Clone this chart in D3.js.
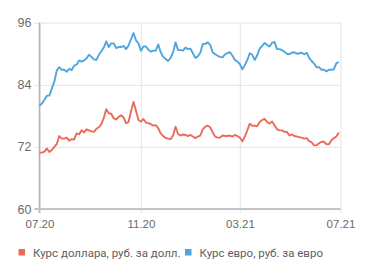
<!DOCTYPE html>
<html>
<head>
<meta charset="utf-8">
<script src="https://cdn.jsdelivr.net/npm/d3@7"></script>
<style>
  body { margin: 0; background: #fff; }
  svg { display: block; font-family: Roboto, "Open Sans", sans-serif; }
</style>
</head>
<body>
<svg width="371" height="275"></svg>
<script>
// readings every 3 days from 01.07.2020
var startDate = new Date(2020, 6, 1);
var stepDays = 3;

var usd = [70.9, 70.9, 71.1, 71.7, 71.0, 71.4, 72.0, 72.6, 74.1, 73.6,
           73.6, 73.8, 73.2, 73.5, 73.4, 74.6, 74.4, 75.2, 74.8, 75.4,
           75.2, 75.0, 74.9, 75.5, 75.8, 76.4, 77.6, 79.3, 78.5, 78.4,
           77.5, 77.3, 77.8, 78.1, 77.7, 76.6, 76.8, 78.9, 80.7, 79.0,
           77.2, 76.9, 77.4, 76.7, 76.6, 76.4, 76.1, 76.2, 75.6, 74.6,
           74.1, 73.7, 73.6, 73.5, 74.2, 75.9, 74.5, 74.2, 74.4, 74.3,
           74.1, 74.3, 74.0, 73.7, 74.0, 74.2, 75.4, 75.9, 76.1, 75.8,
           74.8, 74.0, 73.8, 73.8, 74.2, 74.1, 74.1, 74.2, 74.0, 74.3,
           74.1, 73.8, 73.1, 74.0, 75.2, 76.5, 76.1, 76.1, 76.0, 76.8,
           77.2, 77.4, 76.8, 76.5, 76.9, 76.2, 75.4, 75.2, 75.2, 74.9,
           74.9, 74.2, 74.4, 74.1, 74.0, 73.9, 73.8, 73.6, 73.7, 73.1,
           72.9, 72.3, 72.3, 72.7, 73.0, 73.0, 72.5, 72.5, 73.3, 73.7,
           74.0, 74.8];

var eur = [80.0, 80.4, 81.1, 81.9, 81.9, 83.3, 84.6, 86.8, 87.4, 86.9,
           86.9, 86.5, 87.1, 86.8, 87.7, 87.9, 88.7, 88.5, 88.7, 89.1,
           89.8, 89.4, 88.9, 88.8, 89.8, 90.5, 91.2, 92.4, 91.3, 92.0,
           92.0, 91.1, 91.3, 91.3, 91.5, 90.9, 91.6, 92.8, 94.0, 92.6,
           92.0, 90.6, 91.4, 91.4, 90.8, 90.4, 90.6, 90.6, 91.8, 90.3,
           89.4, 89.0, 88.6, 89.2, 90.3, 92.2, 90.7, 90.7, 90.6, 91.2,
           90.9, 91.0, 90.1, 89.2, 89.5, 90.2, 91.9, 91.9, 92.2, 91.7,
           90.3, 89.9, 89.6, 89.4, 89.3, 89.9, 90.1, 90.3, 89.6, 88.8,
           88.5, 88.0, 87.0, 87.8, 88.8, 90.1, 89.8, 88.8, 89.7, 91.0,
           91.5, 92.1, 91.7, 91.4, 92.1, 92.3, 90.9, 90.9, 90.7, 90.4,
           90.0, 89.9, 90.2, 90.3, 90.0, 90.1, 90.2, 89.9, 90.2, 89.2,
           88.6, 88.1, 87.4, 87.4, 86.9, 86.9, 86.6, 86.9, 86.9, 87.0,
           88.2, 88.4];

var yTicks = [60, 72, 84, 96];
var xTicks = [new Date(2020, 6, 1), new Date(2020, 10, 1), new Date(2021, 2, 1), new Date(2021, 6, 1)];
var seriesNames = ["Курс доллара, руб. за долл.", "Курс евро, руб. за евро"];
var colors = ["#ec6a5c", "#4fa5de"];

var plotL = 39.5, plotR = 340.5, plotT = 22.7, plotB = 209;
var svg = d3.select("svg");

var x = d3.scaleTime().domain([xTicks[0], xTicks[3]]).range([plotL, plotR]);
var y = d3.scaleLinear().domain([60, 96]).range([plotB, plotT]);

function dateAt(i) { return d3.timeDay.offset(startDate, i * stepDays); }

// horizontal grid + y labels
var yAxis = svg.append("g")
    .attr("transform", "translate(" + (plotL - 5) + ",0)")
    .call(d3.axisLeft(y).tickValues(yTicks).tickSize(-(plotR - plotL + 5)).tickPadding(3));
yAxis.select(".domain").remove();
yAxis.selectAll("line").attr("stroke", "#e9e9e9").attr("stroke-width", 1.3);
yAxis.selectAll("text").attr("fill", "#6b6b6b").style("font-size", "12.5px");

// vertical grid + x labels
var xAxis = svg.append("g")
    .attr("transform", "translate(0," + (plotB + 4) + ")")
    .call(d3.axisBottom(x).tickValues(xTicks).tickFormat(d3.timeFormat("%m.%y"))
        .tickSize(-(plotB - plotT + 4)).tickPadding(7));
xAxis.select(".domain").remove();
xAxis.selectAll("line").attr("stroke", "#e9e9e9").attr("stroke-width", 1.3);
xAxis.selectAll("text").attr("fill", "#6b6b6b").style("font-size", "11.5px");

// axis lines
svg.append("line").attr("x1", plotL).attr("x2", plotL).attr("y1", plotT).attr("y2", plotB + 4)
    .attr("stroke", "#b3b3b3").attr("stroke-width", 1.6);
svg.append("line").attr("x1", plotL - 5).attr("x2", plotR).attr("y1", plotB).attr("y2", plotB)
    .attr("stroke", "#c4c4c4").attr("stroke-width", 1.8);

var line = d3.line()
    .x(function(d, i) { return x(dateAt(i)); })
    .y(function(d) { return y(d); });

[usd, eur].forEach(function(s, k) {
    svg.append("path")
        .attr("d", line(s))
        .attr("fill", "none")
        .attr("stroke", colors[k])
        .attr("stroke-width", 1.9)
        .attr("stroke-linejoin", "round");
});

// legend
var legX = [18.5, 185];
var leg = svg.selectAll(".leg").data(seriesNames).enter().append("g")
    .attr("transform", function(d, i) { return "translate(" + legX[i] + ",249)"; });
leg.append("rect").attr("width", 6.5).attr("height", 6.5)
    .attr("fill", function(d, i) { return colors[i]; });
leg.append("text").attr("x", 14.5).attr("y", 7.5)
    .attr("fill", "#5e5e5e").style("font-size", "11.5px")
    .text(function(d) { return d; });
</script>
</body>
</html>
